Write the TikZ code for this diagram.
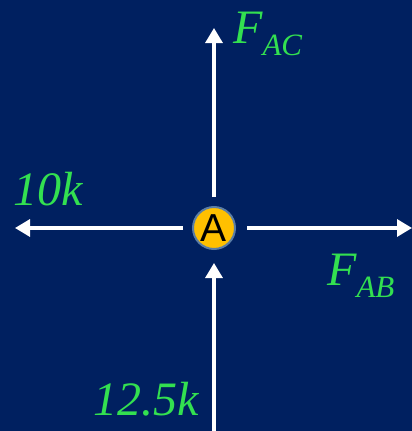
\documentclass[tikz,border=0pt]{standalone}
\usepackage{fontspec}
\setmainfont{Liberation Serif}
\newfontfamily\sansA{Liberation Sans}
\usetikzlibrary{arrows.meta}
\definecolor{bgblue}{RGB}{0,32,96}
\definecolor{lblgreen}{RGB}{51,224,80}
\definecolor{circfill}{RGB}{255,192,0}
\definecolor{circedge}{RGB}{90,125,165}
\tikzset{
  force/.style={draw=white, line width=3.2pt, -{Triangle[length=15pt,width=17pt]}},
  lbl/.style={text=lblgreen, inner sep=0pt, anchor=base west, font=\fontsize{48}{48}\selectfont\itshape},
  joint/.style={circle, draw=circedge, line width=2pt, fill=circfill, minimum size=42pt, inner sep=0pt, font=\sansA\fontsize{39}{39}\selectfont}
}
\newcommand{\subtxt}[1]{\raisebox{-12pt}{\fontsize{31}{31}\selectfont #1}}
\begin{document}
\begin{tikzpicture}[x=1pt,y=-1pt]
\fill[bgblue] (0,0) rectangle (412,431);
\useasboundingbox (0,0) rectangle (412,431);
\node[joint] (A) at (214,228) {A};
\coordinate (upS) at (214,197);
\coordinate (upE) at (214,28);
\coordinate (lfS) at (183,228);
\coordinate (lfE) at (15,228);
\coordinate (rtS) at (247,228);
\coordinate (rtE) at (412,228);
\coordinate (btS) at (214,431);
\coordinate (btE) at (214,263);
\draw[force] (upS) -- (upE);
\draw[force] (lfS) -- (lfE);
\draw[force] (rtS) -- (rtE);
\draw[force] (btS) -- (btE);
\node[lbl] (fac) at (233,43) {F\subtxt{AC}};
\node[lbl] (ten) at (13,205) {10k};
\node[lbl] (fab) at (327,285) {F\subtxt{AB}};
\node[lbl] (twl) at (93,415) {12.5k};
\end{tikzpicture}
\end{document}
